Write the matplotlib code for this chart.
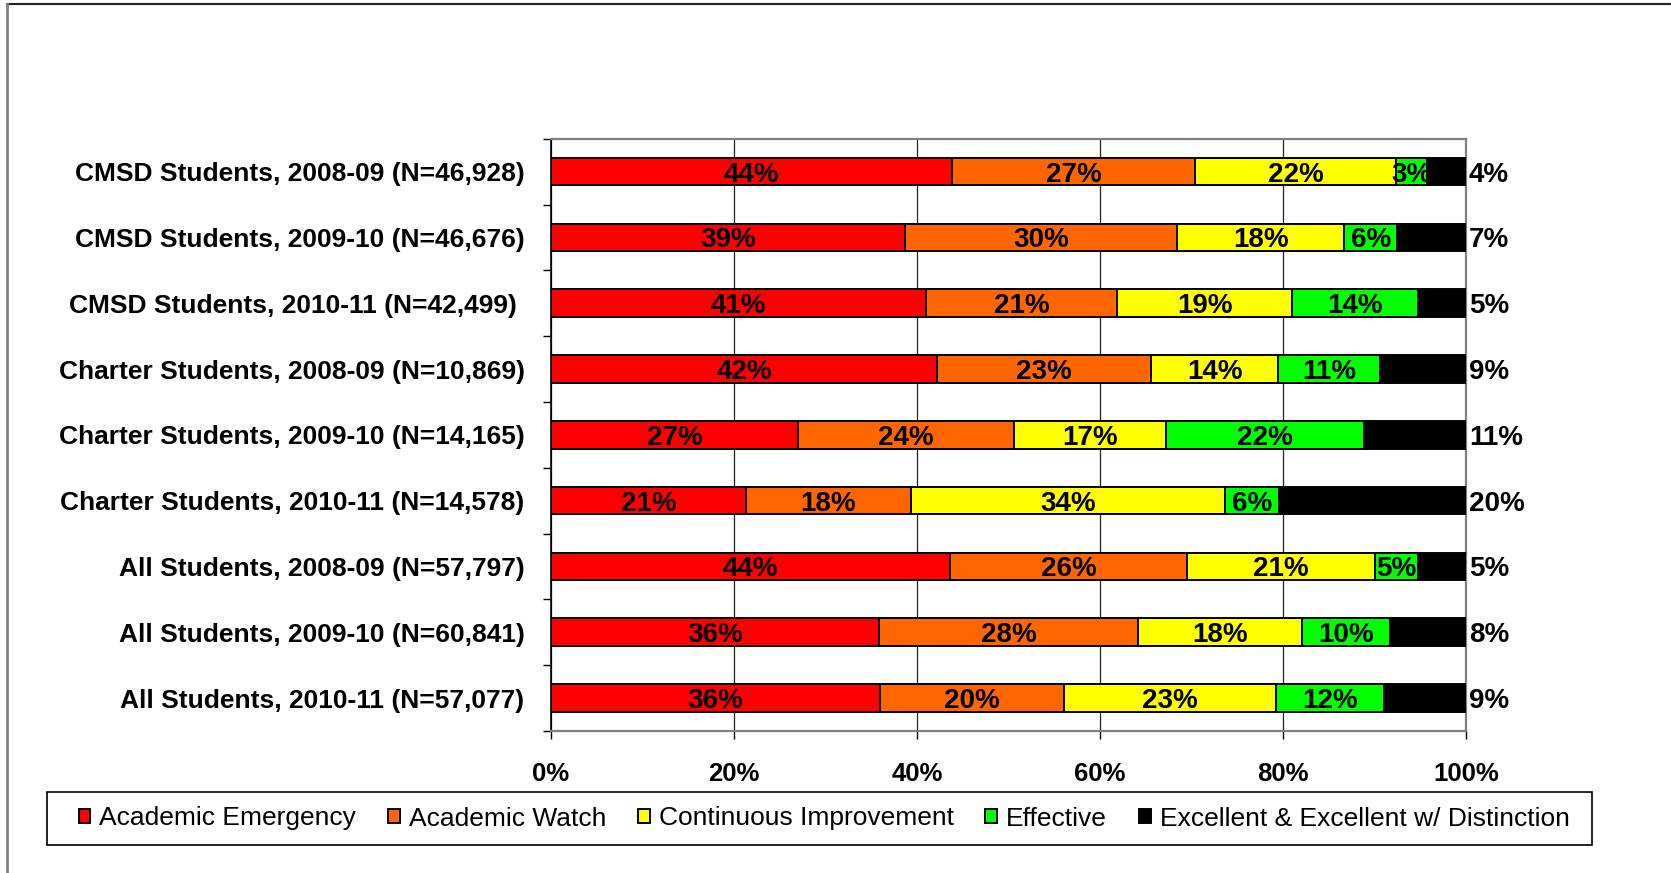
import matplotlib
matplotlib.use("Agg")
import matplotlib.pyplot as plt
from matplotlib.lines import Line2D
from matplotlib.patches import Rectangle
import numpy as np

plt.rcParams['font.family'] = ['Liberation Sans', 'DejaVu Sans']

categories = [
    'CMSD Students, 2008-09 (N=46,928)',
    'CMSD Students, 2009-10 (N=46,676)',
    'CMSD Students, 2010-11 (N=42,499) ',
    'Charter Students, 2008-09 (N=10,869)',
    'Charter Students, 2009-10 (N=14,165)',
    'Charter Students, 2010-11 (N=14,578)',
    'All Students, 2008-09 (N=57,797)',
    'All Students, 2009-10 (N=60,841)',
    'All Students, 2010-11 (N=57,077)',
]

emergency = [43.8, 38.7, 41.0, 42.2, 27.0, 21.3, 43.6, 35.9, 36.0]
watch = [26.6, 29.7, 20.9, 23.4, 23.6, 18.0, 25.9, 28.3, 20.1]
improvement = [22.0, 18.3, 19.1, 13.9, 16.6, 34.4, 20.6, 17.9, 23.1]
effective = [3.3, 5.8, 13.8, 11.1, 21.6, 5.9, 4.6, 9.6, 11.8]
excellent = [4.3, 7.4, 5.2, 9.4, 11.2, 20.4, 5.3, 8.3, 9.0]

series_names = ['Academic Emergency', 'Academic Watch', 'Continuous Improvement',
                'Effective', 'Excellent & Excellent w/ Distinction']
series_colors = ['#FF0000', '#FF6600', '#FFFF00', '#00FF00', '#000000']

W, H = 1671, 873
fig = plt.figure(figsize=(W / 100, H / 100), dpi=100)
ax = fig.add_axes([551 / W, 1 - 731 / H, 915 / W, (731 - 138.7) / H])

y = np.arange(len(categories))
series = [emergency, watch, improvement, effective, excellent]
left = np.zeros(len(categories))
containers = []
for i, (vals, name, col) in enumerate(zip(series, series_names, series_colors)):
    vals = np.array(vals)
    bars = ax.barh(y, vals, left=left, height=0.42, color=col, edgecolor='black',
                   linewidth=1.4, label=name, zorder=3)
    containers.append(bars)
    for rect, v in zip(bars, vals):
        if i < 4:
            t = ax.text(rect.get_x() + rect.get_width() / 2, rect.get_y() + rect.get_height() / 2,
                        f'{v:.0f}%', ha='center', va='center_baseline', fontsize=20,
                        fontweight='bold', color='black', zorder=4)
            t.set_clip_path(rect)
        else:
            ax.annotate(f'{v:.0f}%', xy=(100, rect.get_y() + rect.get_height() / 2),
                        xytext=(2, 0), textcoords='offset points', ha='left',
                        va='center_baseline', fontsize=20, fontweight='bold',
                        annotation_clip=False)
    left = left + vals

ax.set_xlim(0, 100)
ax.set_ylim(len(categories) - 0.5, -0.5)
ax.set_xticks(np.arange(0, 101, 20))
ax.set_xticklabels([f'{t}%' for t in range(0, 101, 20)], fontsize=18.5, fontweight='bold')
ax.tick_params(axis='x', direction='out', length=6, width=1, pad=16)
ax.set_yticks(y)
ax.set_yticklabels(categories, fontsize=19, fontweight='bold')
ax.tick_params(axis='y', which='major', length=0, pad=19)
ax.set_yticks(np.arange(-0.5, len(categories), 1), minor=True)
ax.tick_params(axis='y', which='minor', direction='out', length=6, width=1)
ax.xaxis.grid(True, color='#202020', linewidth=0.9, zorder=0)
ax.set_axisbelow(True)

ax.spines['left'].set_color('black')
ax.spines['left'].set_linewidth(1.2)
for s in ['top', 'right', 'bottom']:
    ax.spines[s].set_color('#808080')
    ax.spines[s].set_linewidth(1.6)

# legend box and entries
fig.add_artist(Rectangle((47 / W, 1 - 845 / H), 1545 / W, 53 / H, transform=fig.transFigure,
                         facecolor='none', edgecolor='black', linewidth=1.2))
fig.legend(handles=containers, labels=series_names, loc='center',
           bbox_to_anchor=(824 / W, 1 - 818.5 / H), ncol=5, frameon=False, fontsize=19,
           handlelength=0.45, handleheight=0.45, handletextpad=0.34, columnspacing=1.2)

# outer frame of the page
fig.add_artist(Line2D([7 / W, 1], [1 - 4 / H, 1 - 4 / H], transform=fig.transFigure,
                      color='#222222', linewidth=1.5))
fig.add_artist(Line2D([7 / W, 7 / W], [0, 1 - 4 / H], transform=fig.transFigure,
                      color='#808080', linewidth=2))

fig.savefig('out.png', dpi=100)
